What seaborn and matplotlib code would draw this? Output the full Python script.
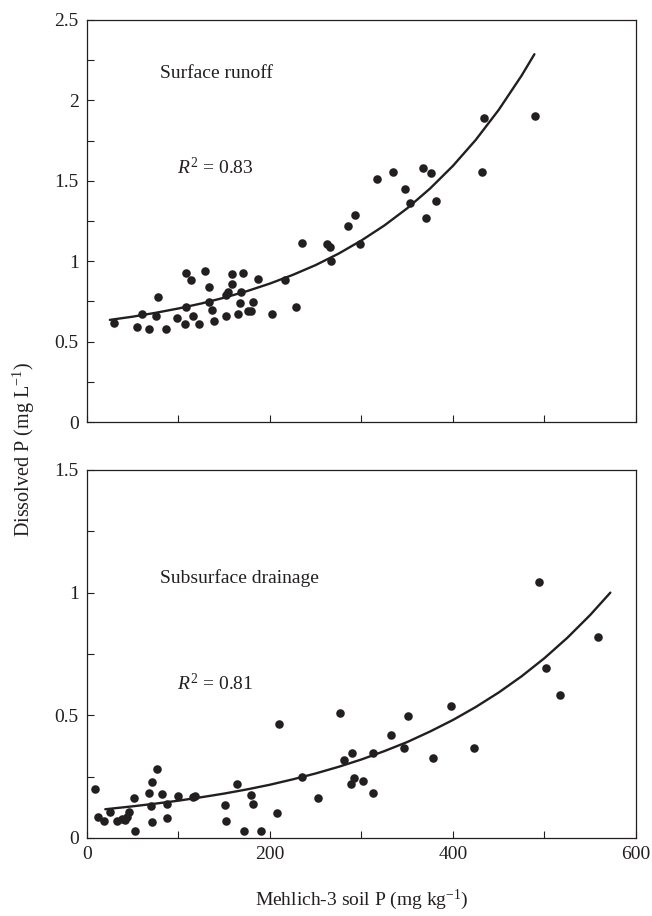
import matplotlib
matplotlib.use("Agg")
import matplotlib.pyplot as plt
import seaborn as sns
import pandas as pd

# surface runoff: Mehlich-3 soil P (mg/kg) vs dissolved P (mg/L)
runoff_soil_p = [29, 55, 60, 68, 75, 78, 86, 98, 107, 108, 108, 114, 116, 122, 129,
                 133, 133, 137, 139, 152, 152, 154, 158, 158, 165, 167, 168, 170, 176,
                 179, 181, 187, 202, 216, 228, 235, 262, 266, 267, 285, 293, 298, 317,
                 334, 348, 353, 367, 371, 376, 381, 432, 434, 490]
runoff_dp = [0.618, 0.589, 0.672, 0.577, 0.659, 0.779, 0.577, 0.649, 0.609, 0.713, 0.929,
             0.881, 0.661, 0.609, 0.941, 0.84, 0.744, 0.698, 0.63, 0.661, 0.79, 0.81,
             0.918, 0.86, 0.672, 0.74, 0.806, 0.929, 0.692, 0.692, 0.748, 0.891, 0.672,
             0.883, 0.713, 1.115, 1.107, 1.086, 1.001, 1.219, 1.287, 1.105, 1.509, 1.555,
             1.451, 1.36, 1.578, 1.267, 1.55, 1.376, 1.553, 1.893, 1.905]
runoff_fit_x = [25, 50, 75, 100, 125, 150, 175, 200, 225, 250, 275, 300, 325, 350,
                375, 400, 425, 450, 475, 489]
runoff_fit_y = [0.635, 0.655, 0.679, 0.706, 0.737, 0.773, 0.814, 0.861, 0.915, 0.976,
                1.047, 1.129, 1.222, 1.329, 1.452, 1.593, 1.755, 1.941, 2.154, 2.287]

# subsurface drainage
drain_soil_p = [9, 12, 19, 25, 33, 38, 42, 44, 46, 51, 52, 68, 70, 71, 71, 76, 82, 87,
                88, 99.5, 116, 118, 151, 152, 164, 172, 179, 181, 190.5, 208, 209.5, 235,
                252, 276, 281, 289, 290, 292, 302, 313, 313, 332, 346.5, 351, 378, 398,
                423, 494, 502, 517, 558]
drain_dp = [0.199, 0.087, 0.069, 0.106, 0.071, 0.076, 0.073, 0.087, 0.107, 0.164, 0.029,
            0.184, 0.131, 0.227, 0.067, 0.283, 0.178, 0.14, 0.082, 0.17, 0.166, 0.173,
            0.135, 0.069, 0.219, 0.03, 0.177, 0.139, 0.03, 0.101, 0.465, 0.248, 0.164,
            0.509, 0.317, 0.219, 0.346, 0.245, 0.234, 0.347, 0.182, 0.418, 0.366, 0.499,
            0.327, 0.539, 0.366, 1.045, 0.694, 0.581, 0.818]
drain_fit_x = [20, 50, 75, 100, 125, 150, 175, 200, 225, 250, 275, 300, 325, 350, 375,
               400, 425, 450, 475, 500, 525, 550, 572]
drain_fit_y = [0.117, 0.129, 0.140, 0.152, 0.166, 0.181, 0.198, 0.217, 0.239, 0.263,
               0.290, 0.320, 0.354, 0.391, 0.434, 0.481, 0.534, 0.593, 0.659, 0.733,
               0.816, 0.909, 1.000]

x_ticks = [0, 100, 200, 300, 400, 500, 600]
x_labels = ["0", "", "200", "", "400", "", "600"]

sns.set_style("ticks")
plt.rcParams["font.family"] = ["Liberation Serif", "DejaVu Serif"]
plt.rcParams["mathtext.fontset"] = "custom"
plt.rcParams["mathtext.rm"] = "Liberation Serif"
plt.rcParams["mathtext.it"] = "Liberation Serif:italic"

ink = "#231f20"
fig = plt.figure(figsize=(6.52, 9.16), dpi=100)
ax1 = fig.add_axes([0.1334, 0.5393, 0.842, 0.4389])
ax2 = fig.add_axes([0.1334, 0.0852, 0.842, 0.4017])

panels = [
    (ax1, runoff_soil_p, runoff_dp, runoff_fit_x, runoff_fit_y, 2.5,
     "Surface runoff", "0.83", 2.17, 1.58),
    (ax2, drain_soil_p, drain_dp, drain_fit_x, drain_fit_y, 1.5,
     "Subsurface drainage", "0.81", 1.06, 0.63),
]

for ax, xs, ys, fx, fy, ymax, name, r2, name_y, r2_y in panels:
    pts = pd.DataFrame({"soil_p": xs, "dp": ys})
    sns.scatterplot(data=pts, x="soil_p", y="dp", ax=ax, color=ink, s=38,
                    linewidth=0, zorder=3)
    fit = pd.DataFrame({"soil_p": fx, "dp": fy})
    sns.lineplot(data=fit, x="soil_p", y="dp", ax=ax, color=ink, lw=1.7)

    ax.set_xlim(0, 600)
    ax.set_ylim(0, ymax)
    ax.set_xticks(x_ticks)
    yt = [i * 0.25 for i in range(int(ymax / 0.25) + 1)]
    ax.set_yticks(yt)
    ax.set_yticklabels([("%g" % v) if (i % 2 == 0) else "" for i, v in enumerate(yt)])
    ax.tick_params(direction="in", length=5, width=0.8, labelsize=14, colors=ink,
                   pad=6)
    for s in ax.spines.values():
        s.set_linewidth(0.9)
        s.set_color(ink)
    ax.set_xlabel("")
    ax.set_ylabel("")
    ax.text(80, name_y, name, fontsize=14, color=ink, va="center")
    ax.text(98, r2_y, "$R^2$ = " + r2, fontsize=14, color=ink, va="center")

ax1.set_xticklabels([""] * len(x_ticks))
ax2.set_xticklabels(x_labels)

fig.text(0.037, 0.509, "Dissolved P (mg L$^{-1}$)", rotation=90, fontsize=14.5,
         color=ink, ha="center", va="center")
fig.text(0.555, 0.018, "Mehlich-3 soil P (mg kg$^{-1}$)", fontsize=14, color=ink,
         ha="center", va="center")

fig.savefig("out.png", dpi=100)
plt.close(fig)
